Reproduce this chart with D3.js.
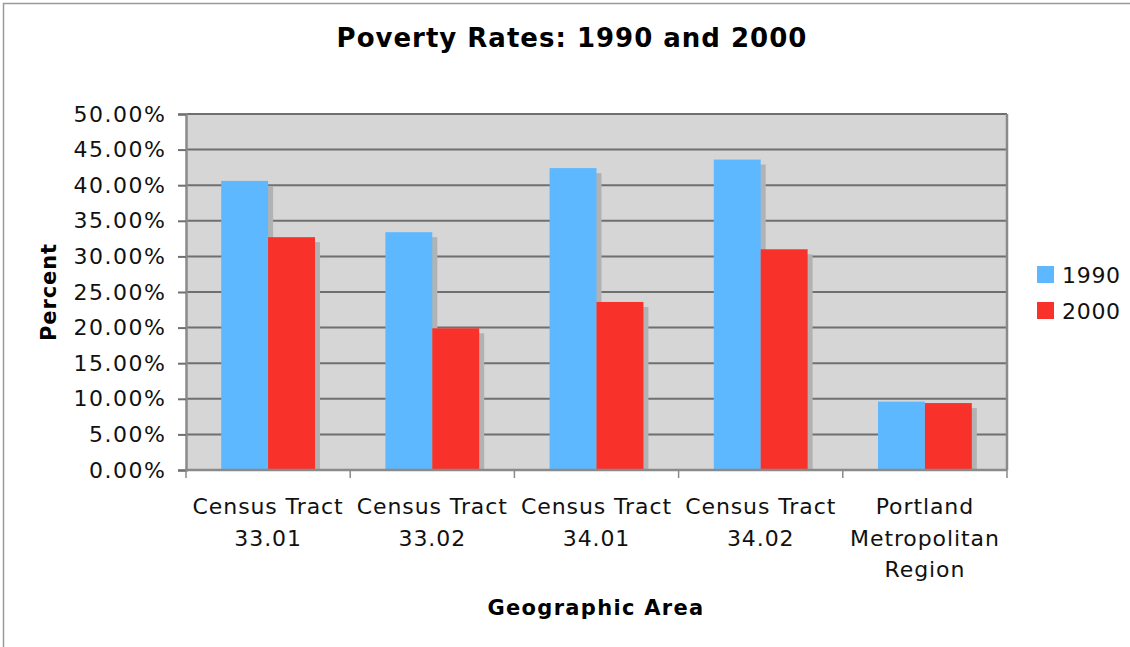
<!DOCTYPE html>
<html>
<head>
<meta charset="utf-8">
<script src="https://cdn.jsdelivr.net/npm/d3@7"></script>
<style>
  body { margin: 0; background: #fff; }
  svg { display: block; font-family: "DejaVu Sans", Verdana, sans-serif; }
</style>
</head>
<body>
<svg id="chart" width="1130" height="647"></svg>
<script>
"use strict";

// Data
var categories = [
  ["Census Tract", "33.01"],
  ["Census Tract", "33.02"],
  ["Census Tract", "34.01"],
  ["Census Tract", "34.02"],
  ["Portland", "Metropolitan", "Region"]
];
var seriesNames = ["1990", "2000"];
var values1990 = [40.6, 33.4, 42.4, 43.6, 9.6];
var values2000 = [32.7, 19.9, 23.6, 31.0, 9.4];
var yTicks = [0, 5, 10, 15, 20, 25, 30, 35, 40, 45, 50];

var colours = ["#5eb8ff", "#f8312a"];

var svg = d3.select("#chart");
var margin = { left: 186, right: 1007, top: 114, bottom: 470 };

// outer frame
svg.append("rect")
  .attr("x", 3.5).attr("y", 3.5)
  .attr("width", 1140).attr("height", 660)
  .attr("fill", "none").attr("stroke", "#9a9a9a").attr("stroke-width", 1.5);

var x = d3.scaleBand()
  .domain(d3.range(categories.length))
  .range([margin.left, margin.right]);
var x2 = d3.scaleBand()
  .domain(seriesNames)
  .range([0, x.bandwidth()])
  .paddingOuter(0.75);
var y = d3.scaleLinear().domain([0, 50]).range([margin.bottom, margin.top]);

// plot background
svg.append("rect")
  .attr("x", margin.left).attr("y", margin.top)
  .attr("width", margin.right - margin.left)
  .attr("height", margin.bottom - margin.top)
  .attr("fill", "#d6d6d6");

// grid lines
svg.append("g").selectAll("line")
  .data(yTicks.slice(1))
  .join("line")
  .attr("x1", margin.left).attr("x2", margin.right)
  .attr("y1", d => y(d)).attr("y2", d => y(d))
  .attr("stroke", "#6f6f6f").attr("stroke-width", 2);

// right border of plot
svg.append("line")
  .attr("x1", margin.right).attr("x2", margin.right)
  .attr("y1", margin.top).attr("y2", margin.bottom)
  .attr("stroke", "#8a8a8a").attr("stroke-width", 2.5);

// bars
var rows = [];
categories.forEach(function(c, i) {
  rows.push({ cat: i, s: "1990", v: values1990[i], col: colours[0] });
  rows.push({ cat: i, s: "2000", v: values2000[i], col: colours[1] });
});

svg.append("g").selectAll("rect")
  .data(rows)
  .join("rect")
  .attr("x", d => x(d.cat) + x2(d.s) + 5)
  .attr("y", d => y(d.v) + 5)
  .attr("width", x2.bandwidth())
  .attr("height", d => y(0) - y(d.v) - 5)
  .attr("fill", "#b2b2b2");

svg.append("g").selectAll("rect")
  .data(rows)
  .join("rect")
  .attr("x", d => x(d.cat) + x2(d.s))
  .attr("y", d => y(d.v))
  .attr("width", x2.bandwidth())
  .attr("height", d => y(0) - y(d.v))
  .attr("fill", d => d.col);

// y axis
var yAxis = svg.append("g")
  .attr("transform", "translate(" + margin.left + ",0)")
  .call(d3.axisLeft(y).tickValues(yTicks).tickSize(8).tickPadding(11.5)
    .tickFormat(d => d.toFixed(2) + "%"));
yAxis.select(".domain").attr("stroke", "#8a8a8a").attr("stroke-width", 2.5);
yAxis.selectAll(".tick line").attr("stroke", "#6f6f6f").attr("stroke-width", 2);
yAxis.selectAll(".tick text")
  .attr("font-size", 22).attr("fill", "#111")
  .attr("letter-spacing", 1.5)
  .attr("font-family", "DejaVu Sans, Verdana, sans-serif");

// x axis
var xTickPos = d3.range(categories.length + 1).map(i => margin.left + i * x.step());
svg.append("line")
  .attr("x1", margin.left).attr("x2", margin.right)
  .attr("y1", margin.bottom).attr("y2", margin.bottom)
  .attr("stroke", "#8a8a8a").attr("stroke-width", 2.5);
svg.append("g").selectAll("line")
  .data(xTickPos)
  .join("line")
  .attr("x1", d => d).attr("x2", d => d)
  .attr("y1", margin.bottom).attr("y2", margin.bottom + 8)
  .attr("stroke", "#8a8a8a").attr("stroke-width", 1.5);

var xLabels = svg.append("g").selectAll("text")
  .data(categories)
  .join("text")
  .attr("text-anchor", "middle")
  .attr("font-size", 22)
  .attr("letter-spacing", 0.9)
  .attr("fill", "#111");
xLabels.selectAll("tspan")
  .data((d, i) => d.map(line => ({ line: line, i: i })))
  .join("tspan")
  .attr("x", d => x(d.i) + x.bandwidth() / 2)
  .attr("y", (d, j) => 514 + j * 31.5)
  .text(d => d.line);

// titles
svg.append("text")
  .attr("x", 572).attr("y", 47)
  .attr("text-anchor", "middle")
  .attr("font-size", 26).attr("font-weight", "bold")
  .attr("letter-spacing", 1)
  .text("Poverty Rates: 1990 and 2000");

svg.append("text")
  .attr("x", 596).attr("y", 615)
  .attr("text-anchor", "middle")
  .attr("font-size", 21).attr("font-weight", "bold")
  .attr("letter-spacing", 1.3)
  .text("Geographic Area");

svg.append("text")
  .attr("transform", "translate(56,292) rotate(-90)")
  .attr("text-anchor", "middle")
  .attr("font-size", 21).attr("font-weight", "bold")
  .attr("letter-spacing", 0.9)
  .text("Percent");

// legend
var legend = svg.append("g").selectAll("g")
  .data(seriesNames)
  .join("g")
  .attr("transform", (d, i) => "translate(1037," + (266 + i * 36) + ")");
legend.append("rect")
  .attr("width", 17).attr("height", 17)
  .attr("fill", (d, i) => colours[i]);
legend.append("text")
  .attr("x", 25).attr("y", 17)
  .attr("font-size", 22).attr("fill", "#111")
  .attr("letter-spacing", 0.7)
  .text(d => d);
</script>
</body>
</html>
